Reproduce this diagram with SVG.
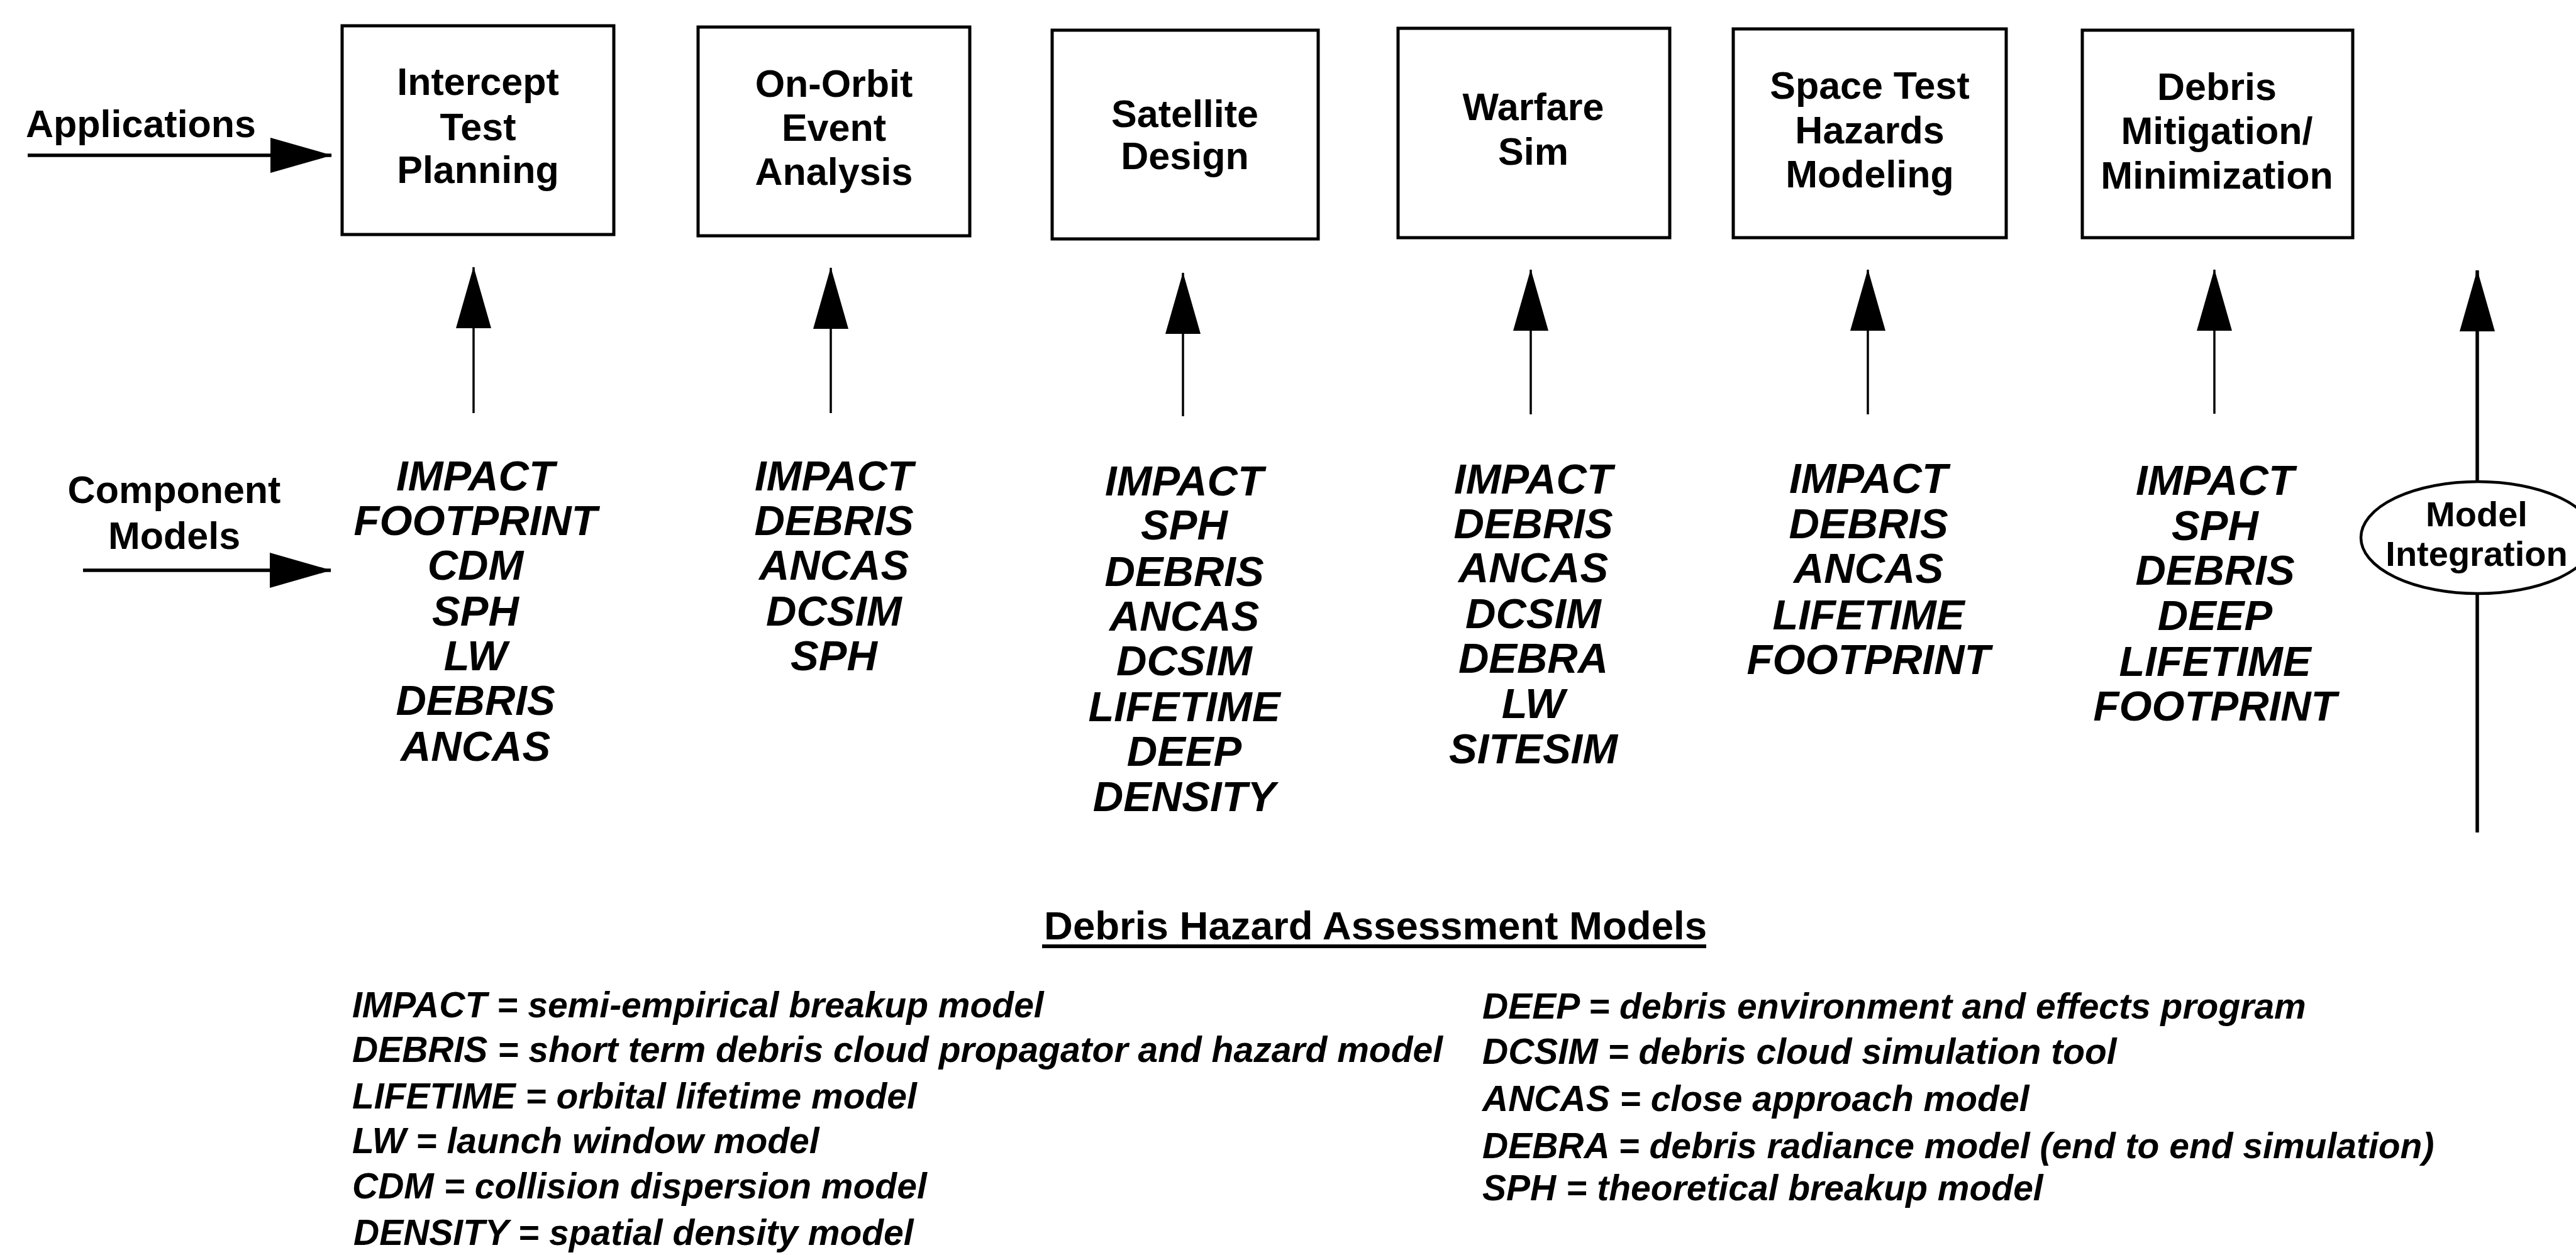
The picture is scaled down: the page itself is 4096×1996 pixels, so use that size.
<svg xmlns="http://www.w3.org/2000/svg" width="4096" height="1996" viewBox="0 0 4096 1996">
<style>
.box{fill:#fff;stroke:#000;stroke-width:5}
.ell{fill:#fff;stroke:#000;stroke-width:4.5}
.lbl{font-family:"Liberation Sans",Arial,sans-serif;font-weight:bold;font-size:61px;fill:#000;text-anchor:middle}
.side{font-family:"Liberation Sans",Arial,sans-serif;font-weight:bold;font-size:61px;fill:#000}
.mi{font-family:"Liberation Sans",Arial,sans-serif;font-weight:bold;font-size:56px;fill:#000;text-anchor:middle}
.comp{font-family:"Liberation Sans",Arial,sans-serif;font-weight:bold;font-style:italic;font-size:67px;fill:#000;text-anchor:middle}
.leg{font-family:"Liberation Sans",Arial,sans-serif;font-weight:bold;font-style:italic;font-size:57px;fill:#000}
.head{font-family:"Liberation Sans",Arial,sans-serif;font-weight:bold;font-size:63px;fill:#000}
.conn{stroke:#000;stroke-width:3.5;fill:none}
.hconn{stroke:#000;stroke-width:5.5;fill:none}
</style>
<defs>
<marker id="ah" markerUnits="userSpaceOnUse" viewBox="0 0 98 56" refX="97" refY="28" markerWidth="98" markerHeight="56" orient="auto">
<path d="M0,0L98,28L0,56Z" fill="#000"/>
</marker>
</defs>
<rect width="4096" height="1996" fill="#fff"/>

<g id="connectors">
<line class="hconn" x1="44" y1="247" x2="527" y2="247" marker-end="url(#ah)"/>
<line class="hconn" x1="132" y1="907" x2="526" y2="907" marker-end="url(#ah)"/>
<line class="conn" x1="753" y1="657" x2="753" y2="425" marker-end="url(#ah)"/>
<line class="conn" x1="1321" y1="657" x2="1321" y2="426" marker-end="url(#ah)"/>
<line class="conn" x1="1881" y1="662" x2="1881" y2="434" marker-end="url(#ah)"/>
<line class="conn" x1="2434" y1="659" x2="2434" y2="429" marker-end="url(#ah)"/>
<line class="conn" x1="2970" y1="659" x2="2970" y2="429" marker-end="url(#ah)"/>
<line class="conn" x1="3521" y1="658" x2="3521" y2="429" marker-end="url(#ah)"/>
<line class="hconn" x1="3939" y1="1324" x2="3939" y2="430" marker-end="url(#ah)"/>
</g>

<g id="label-applications">
<text class="side" x="41" y="218">Applications</text>
</g>
<g id="label-component-models">
<text class="lbl" x="277" y="800">Component</text>
<text class="lbl" x="277" y="873">Models</text>
</g>

<g id="app-intercept">
<rect class="box" x="544" y="41" width="432" height="332"/>
<text class="lbl" x="760" y="151">Intercept</text>
<text class="lbl" x="760" y="223">Test</text>
<text class="lbl" x="760" y="291">Planning</text>
</g>
<g id="app-onorbit">
<rect class="box" x="1110" y="43" width="432" height="332"/>
<text class="lbl" x="1326" y="154">On-Orbit</text>
<text class="lbl" x="1326" y="224">Event</text>
<text class="lbl" x="1326" y="294">Analysis</text>
</g>
<g id="app-satellite">
<rect class="box" x="1673" y="48" width="423" height="332"/>
<text class="lbl" x="1884" y="202">Satellite</text>
<text class="lbl" x="1884" y="269">Design</text>
</g>
<g id="app-warfare">
<rect class="box" x="2223" y="45" width="432" height="333"/>
<text class="lbl" x="2438" y="191">Warfare</text>
<text class="lbl" x="2438" y="262">Sim</text>
</g>
<g id="app-spacetest">
<rect class="box" x="2756" y="46" width="434" height="332"/>
<text class="lbl" x="2973" y="157">Space Test</text>
<text class="lbl" x="2973" y="228">Hazards</text>
<text class="lbl" x="2973" y="298">Modeling</text>
</g>
<g id="app-debris">
<rect class="box" x="3311" y="48" width="430" height="330"/>
<text class="lbl" x="3525" y="159">Debris</text>
<text class="lbl" x="3525" y="229">Mitigation/</text>
<text class="lbl" x="3525" y="300">Minimization</text>
</g>

<g id="models-intercept">
<text class="comp" x="756" y="780">IMPACT</text>
<text class="comp" x="756" y="851">FOOTPRINT</text>
<text class="comp" x="756" y="922">CDM</text>
<text class="comp" x="756" y="995">SPH</text>
<text class="comp" x="756" y="1066">LW</text>
<text class="comp" x="756" y="1137">DEBRIS</text>
<text class="comp" x="756" y="1210">ANCAS</text>
</g>
<g id="models-onorbit">
<text class="comp" x="1326" y="780">IMPACT</text>
<text class="comp" x="1326" y="851">DEBRIS</text>
<text class="comp" x="1326" y="922">ANCAS</text>
<text class="comp" x="1326" y="995">DCSIM</text>
<text class="comp" x="1326" y="1066">SPH</text>
</g>
<g id="models-satellite">
<text class="comp" x="1883" y="788">IMPACT</text>
<text class="comp" x="1883" y="858">SPH</text>
<text class="comp" x="1883" y="932">DEBRIS</text>
<text class="comp" x="1883" y="1003">ANCAS</text>
<text class="comp" x="1883" y="1074">DCSIM</text>
<text class="comp" x="1883" y="1147">LIFETIME</text>
<text class="comp" x="1883" y="1218">DEEP</text>
<text class="comp" x="1883" y="1290">DENSITY</text>
</g>
<g id="models-warfare">
<text class="comp" x="2438" y="785">IMPACT</text>
<text class="comp" x="2438" y="856">DEBRIS</text>
<text class="comp" x="2438" y="926">ANCAS</text>
<text class="comp" x="2438" y="999">DCSIM</text>
<text class="comp" x="2438" y="1070">DEBRA</text>
<text class="comp" x="2438" y="1142">LW</text>
<text class="comp" x="2438" y="1214">SITESIM</text>
</g>
<g id="models-spacetest">
<text class="comp" x="2971" y="784">IMPACT</text>
<text class="comp" x="2971" y="856">DEBRIS</text>
<text class="comp" x="2971" y="927">ANCAS</text>
<text class="comp" x="2971" y="1001">LIFETIME</text>
<text class="comp" x="2971" y="1072">FOOTPRINT</text>
</g>
<g id="models-debris">
<text class="comp" x="3522" y="787">IMPACT</text>
<text class="comp" x="3522" y="859">SPH</text>
<text class="comp" x="3522" y="930">DEBRIS</text>
<text class="comp" x="3522" y="1002">DEEP</text>
<text class="comp" x="3522" y="1075">LIFETIME</text>
<text class="comp" x="3522" y="1146">FOOTPRINT</text>
</g>

<g id="model-integration">
<ellipse class="ell" cx="3940" cy="855" rx="186" ry="89"/>
<text class="mi" x="3938" y="837">Model</text>
<text class="mi" x="3938" y="900">Integration</text>
</g>

<g id="legend">
<text class="head" x="1660" y="1494" textLength="1054" lengthAdjust="spacingAndGlyphs">Debris Hazard Assessment Models</text>
<line x1="1657" y1="1505" x2="2713" y2="1505" stroke="#000" stroke-width="6"/>
<text class="leg" x="560" y="1618">IMPACT = semi-empirical breakup model</text>
<text class="leg" x="560" y="1689">DEBRIS = short term debris cloud propagator and hazard model</text>
<text class="leg" x="560" y="1763">LIFETIME = orbital lifetime model</text>
<text class="leg" x="560" y="1834">LW = launch window model</text>
<text class="leg" x="560" y="1906">CDM = collision dispersion model</text>
<text class="leg" x="562" y="1980">DENSITY = spatial density model</text>
<text class="leg" x="2357" y="1620">DEEP = debris environment and effects program</text>
<text class="leg" x="2357" y="1692">DCSIM = debris cloud simulation tool</text>
<text class="leg" x="2357" y="1767">ANCAS = close approach model</text>
<text class="leg" x="2357" y="1842">DEBRA = debris radiance model (end to end simulation)</text>
<text class="leg" x="2357" y="1909">SPH = theoretical breakup model</text>
</g>
</svg>
